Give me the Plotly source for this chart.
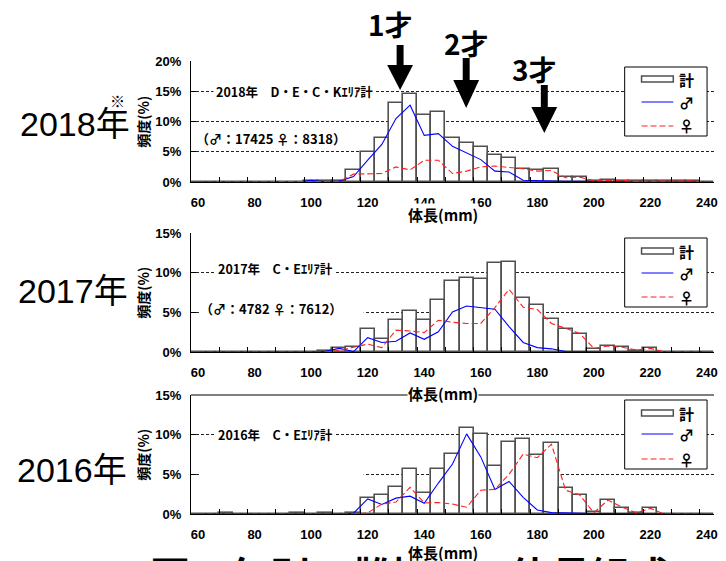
import plotly.graph_objects as go

# ---------------- data ----------------
sizes = list(range(60, 245, 5))  # body length classes (mm)

total_2018 = [0, 0, 0, 0, 0, 0, 0, 0, 0.2, 0.1, 0.2, 2.0, 5.0, 7.35, 13.1, 14.6, 11.05, 11.6, 7.35,
              6.5, 5.8, 4.4, 4.0, 2.2, 2.0, 2.1, 0.8, 0.9, 0.2, 0.3, 0.2, 0.1, 0.1, 0.2, 0.2, 0.1, 0.05]
male_2018 = [0, 0, 0, 0, 0, 0, 0, 0, 0.3, 0.05, 0.15, 0.9, 3.6, 6.2, 10.5, 12.7, 7.7, 8.0, 5.9,
             4.8, 3.7, 1.8, 1.65, 0.3, 0.2, 0.15, 0.1, 0.1, 0.05, 0.05, 0.05, 0, 0, 0.05, 0, 0, 0]
female_2018 = [0, 0, 0, 0, 0, 0, 0, 0, 0, 0.05, 0.1, 1.3, 1.3, 1.4, 2.5, 2.0, 3.6, 3.6, 1.4,
               1.8, 2.5, 2.65, 2.4, 2.2, 1.8, 1.9, 0.7, 0.8, 0.2, 0.3, 0.3, 0.1, 0.1, 0.1, 0.2, 0.2, 0]

total_2017 = [0, 0, 0, 0, 0, 0, 0, 0, 0, 0.1, 0.5, 0.6, 2.9, 1.7, 4.0, 5.2, 4.0, 6.5, 9.0,
              9.35, 9.2, 11.2, 11.4, 6.8, 5.9, 4.2, 2.85, 2.3, 0.4, 0.7, 0.6, 0.1, 0.5, 0, 0, 0, 0]
male_2017 = [0, 0, 0, 0, 0, 0, 0, 0, 0, 0.1, 0.45, 0.05, 1.8, 1.2, 1.35, 2.4, 1.6, 2.55, 5.05,
             5.8, 5.6, 5.4, 3.2, 1.2, 0.55, 0.4, 0.05, 0, 0, 0, 0, 0, 0, 0, 0, 0, 0]
female_2017 = [0, 0, 0, 0, 0, 0, 0, 0, 0, 0, 0.2, 0.6, 1.0, 0.55, 2.75, 2.65, 2.45, 4.0, 3.75,
               3.6, 3.6, 5.6, 7.9, 5.65, 5.35, 3.6, 3.0, 2.35, 0.45, 0.75, 0.6, 0.25, 0.45, 0, 0, 0, 0]

total_2016 = [0, 0, 0.1, 0, 0, 0, 0, 0.1, 0, 0.1, 0, 0.1, 2.0, 2.35, 3.35, 5.7, 2.7, 5.7, 7.55,
              10.85, 10.1, 6.0, 9.1, 9.5, 7.4, 8.95, 3.3, 2.35, 0.2, 1.75, 0.75, 0.15, 0.75, 0, 0, 0, 0]
male_2016 = [0, 0, 0, 0, 0, 0, 0, 0, 0, 0, 0, 0.1, 1.9, 1.2, 2.0, 2.25, 1.35, 3.9, 6.3,
             10.1, 7.2, 3.1, 4.1, 2.1, 0.5, 0.17, 0.1, 0.05, 0.05, 0.05, 0.05, 0.05, 0, 0, 0, 0, 0]
female_2016 = [0, 0, 0, 0, 0, 0, 0, 0, 0, 0, 0, 0, 0.15, 1.25, 1.5, 3.35, 1.4, 1.45, 1.25,
               0.85, 3.0, 3.1, 5.0, 7.55, 7.1, 8.8, 3.0, 2.4, 0.15, 1.75, 0.85, 0.15, 0.7, 0, 0, 0, 0]

x_tick_labels = [60, 80, 100, 120, 140, 160, 180, 200, 220, 240]
y_max = [20, 15, 15]
year_labels = ["2018年", "2017年", "2016年"]
area_labels = ["2018年　D・E・C・Kｴﾘｱ計", "2017年　C・Eｴﾘｱ計", "2016年　C・Eｴﾘｱ計"]
count_labels = ["（♂：17425 ♀：8318）", "（♂：4782 ♀：7612）", ""]
age_labels = ["1才", "2才", "3才"]
legend_labels = ["計", "♂", "♀"]
x_title = "体長(mm)"
y_title = "頻度(%)"
caption = "図　年別・雌雄別の体長組成"

panels = [(total_2018, male_2018, female_2018),
          (total_2017, male_2017, female_2017),
          (total_2016, male_2016, female_2016)]

# ---------------- geometry helpers ----------------
# The page body has an 8px default margin, so the figure is drawn 8px smaller
# and every position below is given in screen pixels of the 726x561 window.
OFF = 8
SW, SH = 726, 561
W, H = SW - OFF, SH - OFF
PL, PR, PT, PB = 191, 718, 61, 514          # plot area in screen pixels
ML, MR, MT, MB = PL - OFF, SW - PR, PT - OFF, SH - PB
PW, PH = PR - PL, PB - PT


def px(x):
    return (x - PL) / PW


def py(y):
    return (PB - y) / PH


panel_px = [(61, 182), (233, 352), (395, 514)]

JP = "Liberation Sans, Noto Sans CJK JP, sans-serif"
JPB = "Noto Sans CJK JP, Liberation Sans, sans-serif"
BLUE = "#0000FF"
RED = "#FF2020"
BAR_LINE = "#505050"

fig = go.Figure()
layout_axes = {}
for k, (tot, male, fem) in enumerate(panels):
    n = "" if k == 0 else str(k + 1)
    xa, ya = "x" + n, "y" + n
    fig.add_trace(go.Bar(x=sizes, y=tot, width=5, xaxis=xa, yaxis=ya,
                         marker=dict(color="white", line=dict(color=BAR_LINE, width=1.6)),
                         showlegend=False, hoverinfo="x+y"))
    fig.add_trace(go.Scatter(x=sizes, y=male, mode="lines", xaxis=xa, yaxis=ya,
                             line=dict(color=BLUE, width=1.1), showlegend=False))
    fig.add_trace(go.Scatter(x=sizes, y=fem, mode="lines", xaxis=xa, yaxis=ya,
                             line=dict(color=RED, width=1.1, dash="6px,3px"), showlegend=False))
    top, bot = panel_px[k]
    ymax = y_max[k]
    yt = list(range(0, ymax + 1, 5))
    layout_axes["xaxis" + n] = dict(
        domain=[0, 1], anchor=ya, range=[57.5, 242.5],
        tickmode="array", tickvals=x_tick_labels, ticktext=[str(v) for v in x_tick_labels],
        ticks="", showline=True, linecolor="black", linewidth=1,
        showgrid=False, zeroline=False, ticklabelstandoff=8,
        tickfont=dict(family=JP, size=13, color="black", weight="bold"),
        minor=dict(tickvals=[v + 7.5 for v in range(60, 235, 10)], ticks="inside",
                   ticklen=5, tickcolor="black", tickwidth=1, showgrid=False),
    )
    layout_axes["yaxis" + n] = dict(
        domain=[py(bot), py(top)], anchor=xa, range=[0, ymax],
        tickmode="array", tickvals=yt, ticktext=[f"{v}%" for v in yt],
        ticks="inside", ticklen=5, tickcolor="black",
        showline=True, linecolor="black", linewidth=1,
        showgrid=True, gridcolor="#222222", gridwidth=1, griddash="3px,2px",
        zeroline=False, ticklabelstandoff=6,
        tickfont=dict(family=JP, size=13, color="black", weight="bold"),
    )

shapes = []
annotations = []

# caption cut off at the bottom edge (drawn first, under the axis title)
annotations.append(dict(text=caption, xref="paper", yref="paper",
                        x=px(148), y=py(574), xanchor="left", yanchor="middle", showarrow=False,
                        font=dict(family=JPB, size=40, color="black", weight="bold")))

# solid top border for bottom panel
shapes.append(dict(type="line", xref="paper", yref="paper", x0=px(191), x1=px(718),
                   y0=py(395), y1=py(395), line=dict(color="black", width=1), layer="above"))

# white boxes hiding the 5% grid line on the left of middle/bottom panels
for yy in (312.6, 474.3):
    shapes.append(dict(type="rect", xref="paper", yref="paper", x0=px(199), x1=px(365),
                       y0=py(yy + 4), y1=py(yy - 4), fillcolor="white", line=dict(width=0),
                       layer="above"))

# legends
leg_boxes = [(67, 136), (238, 307), (400, 469)]
leg_rows = [(79, 102, 126), (251, 273, 297), (413, 434, 459)]
for (t, b), rows in zip(leg_boxes, leg_rows):
    shapes.append(dict(type="rect", xref="paper", yref="paper", x0=px(628), x1=px(711),
                       y0=py(b), y1=py(t), fillcolor="white", line=dict(color="black", width=1),
                       layer="above"))
    r0, r1, r2 = rows
    shapes.append(dict(type="rect", xref="paper", yref="paper", x0=px(645), x1=px(677),
                       y0=py(r0 + 3), y1=py(r0 - 3), fillcolor="white",
                       line=dict(color=BAR_LINE, width=1.5), layer="above"))
    shapes.append(dict(type="line", xref="paper", yref="paper", x0=px(645), x1=px(677),
                       y0=py(r1), y1=py(r1), line=dict(color=BLUE, width=1.1), layer="above"))
    shapes.append(dict(type="line", xref="paper", yref="paper", x0=px(645), x1=px(677),
                       y0=py(r2), y1=py(r2), line=dict(color=RED, width=1.1, dash="6px,3px"),
                       layer="above"))
    for lab, rr in zip(legend_labels, rows):
        annotations.append(dict(text=lab, xref="paper", yref="paper", x=px(681), y=py(rr),
                                xanchor="left", yanchor="middle", showarrow=False,
                                font=dict(family=JPB, size=15, color="black", weight="bold")))

# age arrows: (shaft x, shaft top, head top, tip)
arrows = [(401.7, 45, 65, 90), (468.3, 58, 80, 108), (547, 85, 107, 133)]
age_pos = [(392, 24), (469, 43), (537, 69)]
for (ax, s0, h0, tip), lab, (tx, ty) in zip(arrows, age_labels, age_pos):
    shapes.append(dict(type="rect", xref="paper", yref="paper", x0=px(ax - 3.5), x1=px(ax + 3.5),
                       y0=py(h0 + 1), y1=py(s0), fillcolor="black", line=dict(width=0),
                       layer="above"))
    path = (f"M {px(ax - 13)},{py(h0)} L {px(ax + 13)},{py(h0)} L {px(ax)},{py(tip)} Z")
    shapes.append(dict(type="path", xref="paper", yref="paper", path=path, fillcolor="black",
                       line=dict(width=0), layer="above"))
    annotations.append(dict(text=lab, xref="paper", yref="paper", x=px(tx), y=py(ty),
                            xanchor="center", yanchor="middle", showarrow=False,
                            font=dict(family=JPB, size=28, color="black", weight="bold")))

# panel texts
area_pos = [(295, 91), (276, 268), (276, 434)]
count_pos = [(272, 138), (272, 308), None]
for k in range(3):
    x0, y0 = area_pos[k]
    annotations.append(dict(text=area_labels[k], xref="paper", yref="paper", x=px(x0), y=py(y0),
                            xanchor="center", yanchor="middle", showarrow=False,
                            bgcolor="white", borderpad=2,
                            font=dict(family=JPB, size=12.5, color="black", weight="bold")))
    if count_pos[k]:
        cx, cy = count_pos[k]
        annotations.append(dict(text=count_labels[k], xref="paper", yref="paper", x=px(cx),
                                y=py(cy), xanchor="center", yanchor="middle", showarrow=False,
                                font=dict(family=JPB, size=13, color="black", weight="bold")))

# axis titles
xt_y = [215, 393, 552]
for k in range(3):
    annotations.append(dict(text=x_title, xref="paper", yref="paper", x=px(445), y=py(xt_y[k]),
                            xanchor="center", yanchor="middle", showarrow=False,
                            bgcolor="white", borderpad=0,
                            font=dict(family=JPB, size=15, color="black", weight="bold")))
    top, bot = panel_px[k]
    annotations.append(dict(text=y_title, xref="paper", yref="paper", x=px(142),
                            y=py((top + bot) / 2), textangle=-90, xanchor="center",
                            yanchor="middle", showarrow=False,
                            font=dict(family=JPB, size=14, color="black", weight="bold")))

# year labels
year_pos = [(74, 124), (72, 291), (71, 470)]
for lab, (x0, y0) in zip(year_labels, year_pos):
    annotations.append(dict(text=lab, xref="paper", yref="paper", x=px(x0), y=py(y0),
                            xanchor="center", yanchor="middle", showarrow=False,
                            font=dict(family=JP, size=34, color="black")))
annotations.append(dict(text="※", xref="paper", yref="paper", x=px(117), y=py(100),
                        xanchor="center", yanchor="middle", showarrow=False,
                        font=dict(family=JPB, size=15, color="black")))

fig.update_layout(
    width=W, height=H, autosize=False,
    margin=dict(l=ML, r=MR, t=MT, b=MB),
    paper_bgcolor="white", plot_bgcolor="white",
    bargap=0, showlegend=False,
    shapes=shapes, annotations=annotations,
    **layout_axes,
)

fig.write_html("out.html")
